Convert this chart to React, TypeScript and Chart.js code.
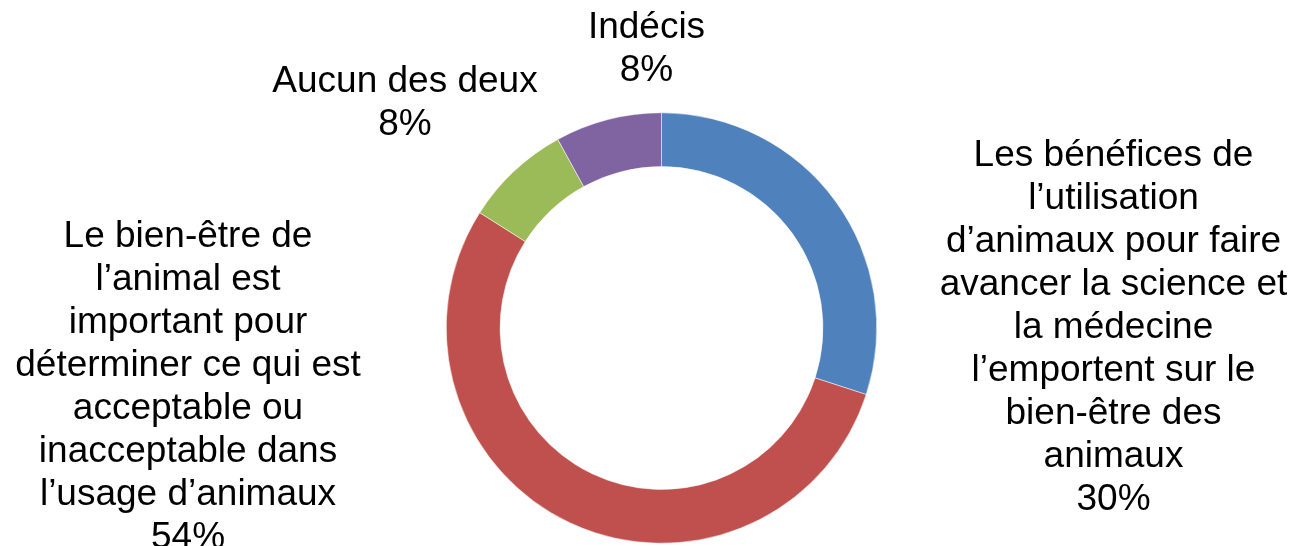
import React, { useEffect, useRef } from "react";
import { Chart, registerables } from "chart.js";

Chart.register(...registerables);

const categories: string[][] = [
  ["Les bénéfices de", "l’utilisation", "d’animaux pour faire", "avancer la science et", "la médecine", "l’emportent sur le", "bien-être des", "animaux"],
  ["Le bien-être de", "l’animal est", "important pour", "déterminer ce qui est", "acceptable ou", "inacceptable dans", "l’usage d’animaux"],
  ["Aucun des deux"],
  ["Indécis"],
];
const values: number[] = [30, 54, 8, 8];
const percentLabels: string[] = ["30%", "54%", "8%", "8%"];
const colors: string[] = ["#4F81BD", "#C0504D", "#9BBB59", "#8064A2"];

// label anchor offsets relative to the doughnut centre (style, not data)
const labelAnchors = [
  { dx: 452, dy: -162 },
  { dx: -473.5, dy: -81 },
  { dx: -256.5, dy: -236 },
  { dx: -15, dy: -290 },
];

const FONT = "37px 'Liberation Sans', Arial, sans-serif";
const LINE_H = 43;

const labelPlugin = {
  id: "sliceLabels",
  afterDraw(chart: any) {
    const meta = chart.getDatasetMeta(0);
    if (!meta || !meta.data.length) return;
    const arc = meta.data[0];
    const cx = arc.x;
    const cy = arc.y;
    const ctx = chart.ctx;
    ctx.save();
    ctx.font = FONT;
    ctx.fillStyle = "#000000";
    ctx.textAlign = "center";
    ctx.textBaseline = "alphabetic";
    categories.forEach((lines, i) => {
      const a = labelAnchors[i];
      const all = [...lines, percentLabels[i]];
      all.forEach((t, k) => {
        ctx.fillText(t, cx + a.dx, cy + a.dy + k * LINE_H);
      });
    });
    ctx.restore();
  },
};

export default function App() {
  const ref = useRef<HTMLCanvasElement | null>(null);
  useEffect(() => {
    document.body.style.margin = "0";
    const canvas = ref.current;
    if (!canvas) return;
    const chart = new Chart(canvas, {
      type: "doughnut",
      data: {
        labels: categories.map((c) => c.join(" ")),
        datasets: [
          {
            data: values,
            backgroundColor: colors,
            borderColor: "#ffffff",
            borderWidth: 0.5,
          },
        ],
      },
      options: {
        responsive: false,
        animation: false,
        cutout: "75%",
        layout: { padding: { left: 446, right: 420, top: 112.5, bottom: 2.5 } },
        plugins: {
          legend: { display: false },
          tooltip: { enabled: false },
        },
      },
      plugins: [labelPlugin],
    });
    return () => chart.destroy();
  }, []);
  return (
    <div style={{ position: "fixed", left: 0, top: 0, width: 1297, height: 546, background: "#ffffff" }}>
      <canvas ref={ref} width={1297} height={546} style={{ width: 1297, height: 546, display: "block" }} />
    </div>
  );
}
